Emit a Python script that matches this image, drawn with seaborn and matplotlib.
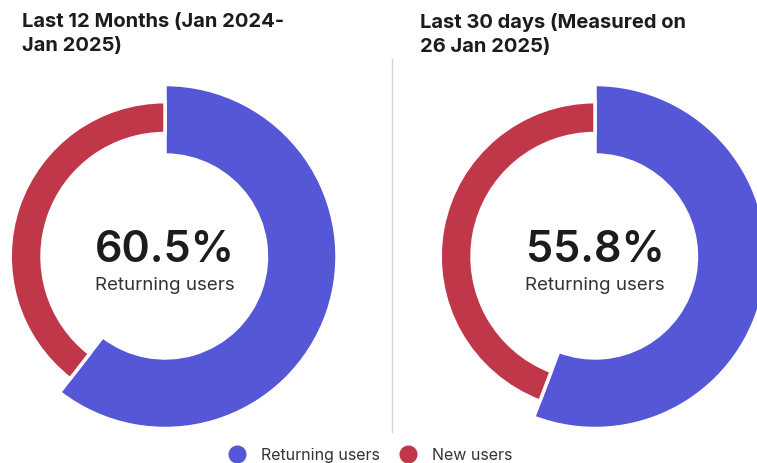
import matplotlib
matplotlib.use("Agg")
import matplotlib.pyplot as plt
from matplotlib.lines import Line2D
import seaborn as sns

# data
titles = ["Last 12 Months (Jan 2024-\nJan 2025)", "Last 30 days (Measured on\n26 Jan 2025)"]
returning_pct = [60.5, 55.8]
new_pct = [39.5, 44.2]
labels = ["Returning users", "New users"]
colors = ["#5557d6", "#c0374a"]

sns.set_theme(style="white")
plt.rcParams["font.family"] = ["Inter", "DejaVu Sans"]

W, H = 757, 464
fig = plt.figure(figsize=(W / 100, H / 100), dpi=100)

R = 172  # outer radius of the returning ring in px
centers = [(165, 257.5), (595, 257.5)]

for (cx, cy), title, ret, new in zip(centers, titles, returning_pct, new_pct):
    ax = fig.add_axes([(cx - R) / W, (H - cy - R) / H, 2 * R / W, 2 * R / H])
    ax.axis("off")

    # thick outer ring for returning users
    w1, _ = ax.pie([ret, new], radius=1.0, startangle=90, counterclock=False,
                   colors=colors, wedgeprops=dict(width=0.41, edgecolor="white", linewidth=2.5))
    w1[1].set_visible(False)
    # thinner ring for new users
    w2, _ = ax.pie([ret, new], radius=0.9, startangle=90, counterclock=False,
                   colors=colors, wedgeprops=dict(width=0.185, edgecolor="white", linewidth=2.5))
    w2[0].set_visible(False)
    ax.set_xlim(-1, 1)
    ax.set_ylim(-1, 1)

    ax.text(0, -0.025, f"{ret}%", ha="center", va="baseline", fontsize=31,
            fontweight="semibold", color="#1c1c1c")
    ax.text(0, -0.19, "Returning users", ha="center", va="baseline", fontsize=13.5,
            color="#333333")

fig.text(22 / W, 1 - 13 / H, titles[0], ha="left", va="top", fontsize=14.5,
         fontweight="bold", color="#1c1c1c", linespacing=1.42)
fig.text(420 / W, 1 - 13 / H, titles[1], ha="left", va="top", fontsize=14.5,
         fontweight="bold", color="#1c1c1c", linespacing=1.42)

# divider
fig.add_artist(Line2D([392 / W, 392 / W], [1 - 60 / H, 1 - 433 / H], color="#d4d4d4", lw=1))

handles = [Line2D([], [], marker="o", linestyle="", markersize=12, color=c) for c in colors]
fig.legend(handles, labels, loc="center", bbox_to_anchor=(367 / W, 1 - 456 / H), ncol=2,
           frameon=False, fontsize=11.5, handletextpad=0.5, columnspacing=0.75,
           labelcolor="#333333")

fig.savefig("out.png", dpi=100, facecolor="white")
